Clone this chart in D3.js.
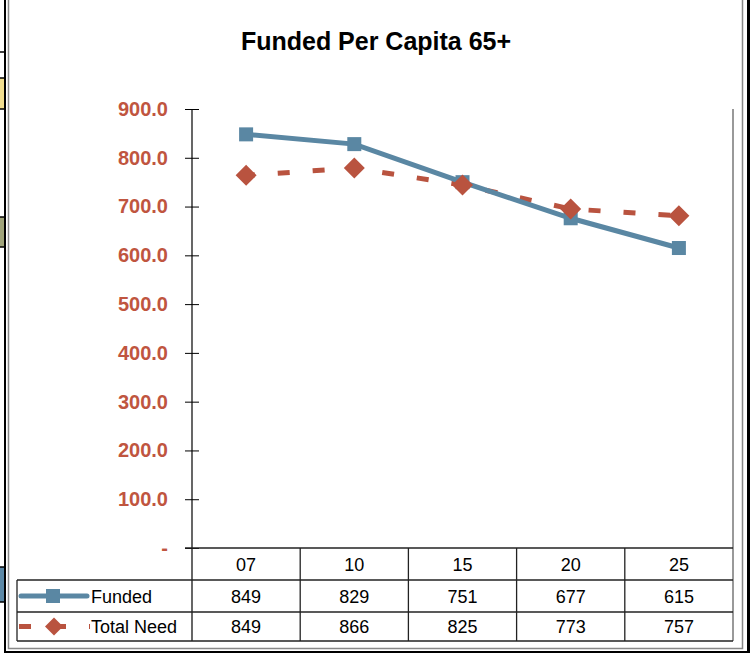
<!DOCTYPE html>
<html>
<head>
<meta charset="utf-8">
<script src="https://cdn.jsdelivr.net/npm/d3@7"></script>
<style>
  body { margin: 0; background: #fff; }
  svg { display: block; font-family: "Liberation Sans", Arial, sans-serif; }
</style>
</head>
<body>
<svg id="chart" width="750" height="653"></svg>
<script>
"use strict";
// chart data
var categories = ["07", "10", "15", "20", "25"];
var fundedValues = [848, 828, 750, 676, 615];
var totalNeedValues = [764, 779, 744, 695, 681];
var fundedLabels = ["849", "829", "751", "677", "615"];
var totalNeedLabels = ["849", "866", "825", "773", "757"];
var yTicks = [0, 100, 200, 300, 400, 500, 600, 700, 800, 900];
var seriesNames = ["Funded", "Total Need"];

var blue = "#5a87a3";
var red = "#b9533f";
var svg = d3.select("#chart");

// bits of the spreadsheet showing on the left
var cells = svg.append("g");
cells.append("rect").attr("x", 0).attr("y", 78).attr("width", 5).attr("height", 31).attr("fill", "#f1de8f");
cells.append("rect").attr("x", 0).attr("y", 217).attr("width", 5).attr("height", 30).attr("fill", "#a0a47a");
cells.append("rect").attr("x", 0).attr("y", 567).attr("width", 5).attr("height", 35).attr("fill", "#5b88a6");
[52, 78, 109, 217, 247, 567, 602].forEach(function (y) {
    cells.append("line").attr("x1", 0).attr("x2", 5).attr("y1", y).attr("y2", y)
        .attr("stroke", "#000").attr("stroke-width", 1.5);
});

// frame
svg.append("line").attr("x1", 5).attr("x2", 5).attr("y1", 0).attr("y2", 653).attr("stroke", "#000").attr("stroke-width", 2);
svg.append("line").attr("x1", 748.5).attr("x2", 748.5).attr("y1", 0).attr("y2", 653).attr("stroke", "#000").attr("stroke-width", 3);
svg.append("line").attr("x1", 5).attr("x2", 750).attr("y1", 652).attr("y2", 652).attr("stroke", "#000").attr("stroke-width", 2);
svg.append("path").attr("d", "M8.5,0V648.5H742.5V0").attr("fill", "none").attr("stroke", "#888").attr("stroke-width", 1.5);

svg.append("text").attr("x", 376).attr("y", 50).attr("text-anchor", "middle")
    .attr("font-size", 25).attr("font-weight", "bold").attr("fill", "#000")
    .text("Funded Per Capita 65+");

var x = d3.scaleBand().domain(categories).range([192, 733]);
var y = d3.scaleLinear().domain([0, 900]).range([548, 109]);
var cx = function (d, i) { return x(categories[i]) + x.bandwidth() / 2; };

// y axis, ticks cross the axis line
var yAxis = svg.append("g").attr("transform", "translate(192,0)")
    .call(d3.axisLeft(y).tickValues(yTicks).tickSize(7).tickPadding(17)
        .tickFormat(function (d) { return d === 0 ? "-" : d3.format(".1f")(d); }));
yAxis.select(".domain").remove();
yAxis.selectAll(".tick line").attr("stroke", "#000").attr("x2", 7).attr("x1", -7);
yAxis.selectAll(".tick text").attr("fill", "#c0553f").attr("font-size", 20)
    .attr("font-weight", "bold").attr("font-family", "Liberation Sans, Arial, sans-serif");
svg.append("line").attr("x1", 192).attr("x2", 192).attr("y1", y(900)).attr("y2", 641)
    .attr("stroke", "#000").attr("stroke-width", 1.2);
svg.append("line").attr("x1", 733).attr("x2", 733).attr("y1", y(900)).attr("y2", 641)
    .attr("stroke", "#777").attr("stroke-width", 1.5);

// data table
var rows = [548, 580, 612, 641];
var table = svg.append("g").attr("stroke", "#222").attr("stroke-width", 1.3);
table.append("line").attr("x1", 185).attr("x2", 733).attr("y1", rows[0]).attr("y2", rows[0]);
rows.slice(1).forEach(function (r) {
    table.append("line").attr("x1", 17).attr("x2", 733).attr("y1", r).attr("y2", r);
});
table.append("line").attr("x1", 17).attr("x2", 17).attr("y1", rows[1]).attr("y2", rows[3]);
categories.slice(1).forEach(function (c) {
    table.append("line").attr("x1", x(c)).attr("x2", x(c)).attr("y1", rows[0]).attr("y2", rows[3]);
});

var tableRows = [categories, fundedLabels, totalNeedLabels];
tableRows.forEach(function (labels, r) {
    svg.append("g").selectAll("text").data(labels).enter().append("text")
        .attr("x", cx)
        .attr("y", (rows[r] + rows[r + 1]) / 2 + 6.5)
        .attr("text-anchor", "middle").attr("font-size", 18).attr("fill", "#000")
        .text(function (d) { return d; });
});

// series
var line = d3.line().x(cx).y(function (d) { return y(d); });

svg.append("path").datum(totalNeedValues).attr("d", line)
    .attr("fill", "none").attr("stroke", red).attr("stroke-width", 5)
    .attr("stroke-dasharray", "12,23").attr("stroke-dashoffset", 3.3);
svg.append("path").datum(fundedValues).attr("d", line)
    .attr("fill", "none").attr("stroke", blue).attr("stroke-width", 5);

svg.append("g").selectAll("rect").data(fundedValues).enter().append("rect")
    .attr("x", function (d, i) { return cx(d, i) - 7; })
    .attr("y", function (d) { return y(d) - 7; })
    .attr("width", 14).attr("height", 14).attr("fill", blue);

var diamond = "M0,-10.5L10.5,0L0,10.5L-10.5,0Z";
svg.append("g").selectAll("path").data(totalNeedValues).enter().append("path")
    .attr("transform", function (d, i) { return "translate(" + cx(d, i) + "," + y(d) + ")"; })
    .attr("d", diamond).attr("fill", red);

// legend keys in the table
var keyY = [(rows[1] + rows[2]) / 2, (rows[2] + rows[3]) / 2];
svg.append("line").attr("x1", 21).attr("x2", 87).attr("y1", keyY[0]).attr("y2", keyY[0])
    .attr("stroke", blue).attr("stroke-width", 5).attr("stroke-linecap", "round");
svg.append("rect").attr("x", 46).attr("y", keyY[0] - 7).attr("width", 14).attr("height", 14).attr("fill", blue);
svg.append("line").attr("x1", 19).attr("x2", 90).attr("y1", keyY[1]).attr("y2", keyY[1])
    .attr("stroke", red).attr("stroke-width", 5).attr("stroke-dasharray", "12,23");
svg.append("path").attr("transform", "translate(54," + keyY[1] + ")").attr("d", "M0,-9L9,0L0,9L-9,0Z").attr("fill", red);

svg.append("g").selectAll("text").data(seriesNames).enter().append("text")
    .attr("x", 91).attr("y", function (d, i) { return keyY[i] + 6.5; })
    .attr("font-size", 18).attr("fill", "#000")
    .text(function (d) { return d; });
</script>
</body>
</html>
